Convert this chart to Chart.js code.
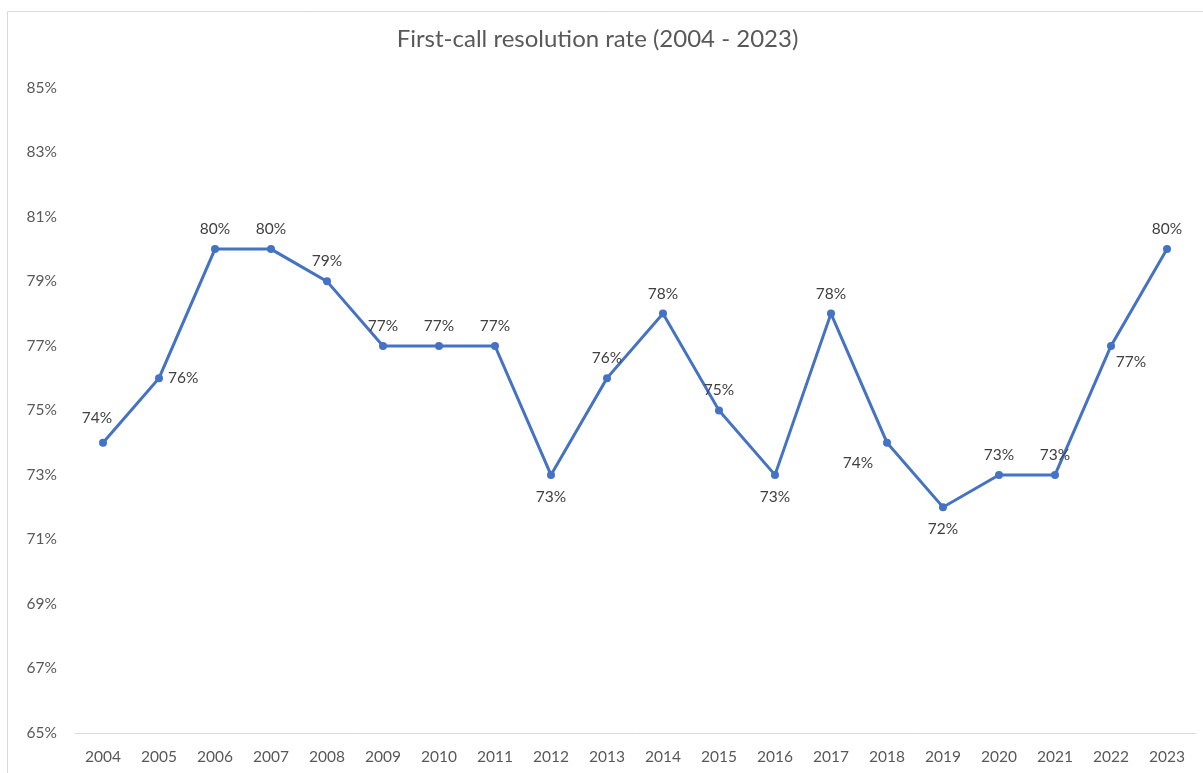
<!DOCTYPE html>
<html>
<head>
<meta charset="utf-8">
<script src="https://cdn.jsdelivr.net/npm/chart.js@4/dist/chart.umd.min.js"></script>
<style>
  html, body { margin: 0; padding: 0; background: #fff; }
  #wrap { position: relative; width: 1203px; height: 773px; }
</style>
</head>
<body>
<div id="wrap"><canvas id="chart"></canvas></div>
<script>
// data
const years = ["2004", "2005", "2006", "2007", "2008", "2009", "2010", "2011", "2012", "2013",
               "2014", "2015", "2016", "2017", "2018", "2019", "2020", "2021", "2022", "2023"];
const rates = [74, 76, 80, 80, 79, 77, 77, 77, 73, 76, 78, 75, 73, 78, 74, 72, 73, 73, 77, 80];
const titleText = "First-call resolution rate (2004 - 2023)";
const yMin = 65, yMax = 85, yStep = 2;

// where each data label sits relative to its point
const labelPlace = ["aboveLeft", "right", "above", "above", "above", "above", "above", "above", "below", "above",
                    "above", "above", "below", "above", "belowLeft", "below", "above", "above", "belowRight", "above"];

const FONT = "Lato, 'Noto Sans', sans-serif";
const blue = "#4472C4";

// the light frame round the chart
const framePlugin = {
  id: "frame",
  beforeDraw(chart) {
    const ctx = chart.ctx;
    ctx.save();
    ctx.strokeStyle = "#d9d9d9";
    ctx.lineWidth = 1;
    ctx.beginPath();
    ctx.moveTo(7.5, 800);
    ctx.lineTo(7.5, 11.5);
    ctx.lineTo(1203, 11.5);
    ctx.stroke();
    ctx.restore();
  }
};

// data labels drawn next to each point
const labelPlugin = {
  id: "pointLabels",
  afterDatasetsDraw(chart) {
    const ctx = chart.ctx;
    const meta = chart.getDatasetMeta(0);
    ctx.save();
    ctx.font = "15.5px " + FONT;
    ctx.fillStyle = "#404040";
    ctx.textBaseline = "middle";
    meta.data.forEach((pt, i) => {
      const txt = rates[i] + "%";
      let x = pt.x, y = pt.y;
      ctx.textAlign = "center";
      switch (labelPlace[i]) {
        case "above": y -= 20; break;
        case "below": y += 22; break;
        case "aboveLeft": x -= 6; y -= 25; break;
        case "right": x += 9; ctx.textAlign = "left"; break;
        case "belowLeft": x -= 29; y += 20; break;
        case "belowRight": x += 20; y += 16; break;
      }
      ctx.fillText(txt, x, y);
    });
    ctx.restore();
  }
};

new Chart(document.getElementById("chart"), {
  type: "line",
  data: {
    labels: years,
    datasets: [{
      data: rates,
      borderColor: blue,
      backgroundColor: blue,
      borderWidth: 3,
      pointRadius: 4,
      pointHoverRadius: 4,
      pointBackgroundColor: blue,
      pointBorderWidth: 0,
      tension: 0,
      fill: false
    }]
  },
  options: {
    responsive: true,
    maintainAspectRatio: false,
    animation: false,
    events: [],
    layout: { padding: { left: 0, right: 8, top: 0, bottom: 0 } },
    plugins: {
      legend: { display: false },
      tooltip: { enabled: false },
      title: {
        display: true,
        text: titleText,
        color: "#595959",
        font: { family: FONT, size: 24, weight: "normal" },
        padding: { top: 25, bottom: 34 }
      }
    },
    scales: {
      x: {
        offset: true,
        grid: { display: false },
        border: { display: true, color: "#d9d9d9", width: 1 },
        ticks: {
          color: "#595959",
          font: { family: FONT, size: 15.5 },
          padding: 7,
          maxRotation: 0,
          autoSkip: false
        },
        afterFit(scale) { scale.height = 40; }
      },
      y: {
        min: yMin,
        max: yMax,
        grid: { display: false, drawTicks: false },
        border: { display: false },
        ticks: {
          stepSize: yStep,
          color: "#595959",
          font: { family: FONT, size: 15.5 },
          padding: 18,
          callback: (v) => v + "%"
        },
        afterFit(scale) { scale.width = 75; }
      }
    }
  },
  plugins: [framePlugin, labelPlugin]
});
</script>
</body>
</html>
